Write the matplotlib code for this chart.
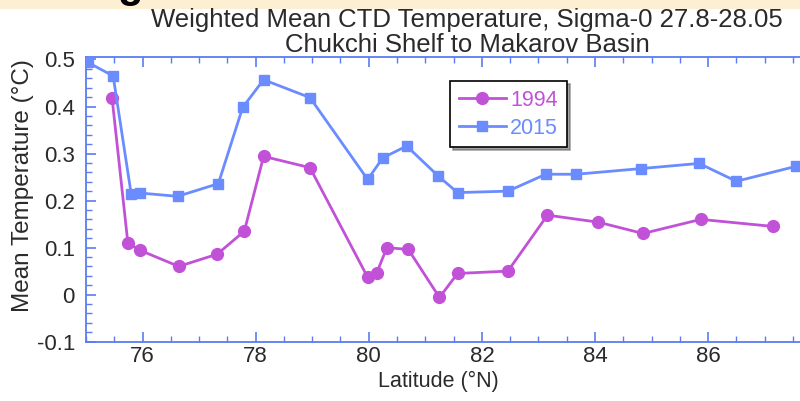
import matplotlib
matplotlib.use("Agg")
import matplotlib.pyplot as plt
from matplotlib.ticker import MultipleLocator
from matplotlib.patches import Rectangle

plt.rcParams['font.family'] = ['Liberation Sans', 'DejaVu Sans']

# data
lat_1994 = [75.46, 75.74, 75.96, 76.64, 77.32, 77.80, 78.14, 78.96, 79.98, 80.14,
            80.32, 80.70, 81.25, 81.57, 82.46, 83.16, 84.06, 84.85, 85.87, 87.15]
temp_1994 = [0.419, 0.110, 0.094, 0.060, 0.086, 0.135, 0.294, 0.270, 0.037, 0.046,
             0.100, 0.096, -0.006, 0.045, 0.050, 0.169, 0.154, 0.130, 0.160, 0.145]

lat_2015 = [75.03, 75.48, 75.80, 75.96, 76.62, 77.34, 77.77, 78.14, 78.96, 79.98,
            80.25, 80.67, 81.23, 81.57, 82.46, 83.13, 83.67, 84.81, 85.84, 86.50, 87.56]
temp_2015 = [0.494, 0.465, 0.213, 0.216, 0.209, 0.236, 0.398, 0.457, 0.419, 0.245,
             0.291, 0.316, 0.252, 0.217, 0.220, 0.256, 0.256, 0.268, 0.279, 0.241, 0.273]

x_ticks = [76, 78, 80, 82, 84, 86]
y_ticks = [-0.1, 0, 0.1, 0.2, 0.3, 0.4, 0.5]
y_labels = ['-0.1', '0', '0.1', '0.2', '0.3', '0.4', '0.5']

purple = '#c152d8'
blue = '#6a8cff'
axis_blue = '#5a7cf0'
txt = '#2a2a2a'

fig = plt.figure(figsize=(8, 4.01), dpi=100)

# strip of the slide above the chart
fig.patches.append(Rectangle((0, 1 - 9/401), 1, 9/401, transform=fig.transFigure,
                             facecolor='#fdf0d2', edgecolor='none', zorder=0))
fig.text(0.163, 1 + 3/401, 'g', fontsize=30, fontweight='bold', color='black',
         ha='center', va='baseline')

ax = fig.add_axes([0.1075, 0.148, 0.919, 0.7095])
ax.plot(lat_1994, temp_1994, '-o', color=purple, lw=2.0, ms=8.5, label='1994', zorder=3)
ax.plot(lat_2015, temp_2015, '-s', color=blue, lw=2.0, ms=7.5, label='2015', zorder=3)

ax.set_xlim(75, 88)
ax.set_ylim(-0.1, 0.505)
ax.set_xticks(x_ticks)
ax.xaxis.set_minor_locator(MultipleLocator(0.5))
ax.set_yticks(y_ticks)
ax.set_yticklabels(y_labels)
ax.yaxis.set_minor_locator(MultipleLocator(0.02))

for s in ax.spines.values():
    s.set_color(axis_blue)
    s.set_linewidth(1.3)
ax.spines['right'].set_visible(False)

ax.tick_params(which='both', direction='in', color=axis_blue, top=True, right=False,
               labelcolor=txt, labelsize=16)
ax.tick_params(which='major', length=7, width=1.2)
ax.tick_params(which='minor', length=4, width=1.0)
ax.tick_params(axis='y', pad=8)
ax.tick_params(axis='x', pad=3)

# axis titles sit off-centre in the original, so place them directly
fig.text(438/800, 1 - 387/401, 'Latitude (°N)', fontsize=15.5, color=txt,
         ha='center', va='baseline')
fig.text(23/800, 1 - 186/401, 'Mean Temperature (°C)', fontsize=17.5, color=txt,
         rotation=90, ha='center', va='center')

fig.text(467/800, 1 - 27/401, 'Weighted Mean CTD Temperature, Sigma-0 27.8-28.05',
         fontsize=18.5, color=txt, ha='center', va='baseline')
fig.text(467/800, 1 - 52/401, 'Chukchi Shelf to Makarov Basin',
         fontsize=18.5, color=txt, ha='center', va='baseline')

leg = ax.legend(loc='upper left', bbox_to_anchor=(450/800, 1 - 81/401),
                bbox_transform=fig.transFigure, borderaxespad=0, fancybox=False,
                shadow=True, edgecolor='black', fontsize=15.5, labelcolor='linecolor',
                handlelength=2.2, handletextpad=0.2, borderpad=0.4,
                labelspacing=0.32, framealpha=1)
leg.get_frame().set_linewidth(1.2)

fig.savefig('out.png', dpi=100)
